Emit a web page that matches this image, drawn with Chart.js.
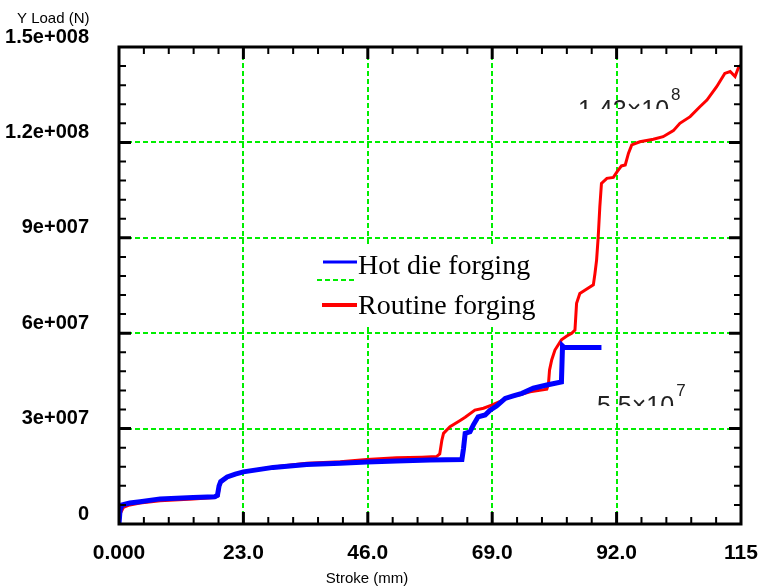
<!DOCTYPE html>
<html>
<head>
<meta charset="utf-8">
<script src="https://cdn.jsdelivr.net/npm/chart.js@4.4.1/dist/chart.umd.min.js"></script>
<style>
  html, body { margin: 0; padding: 0; background: #fff; }
  #wrap { position: relative; width: 762px; height: 588px; }
</style>
</head>
<body>
<div id="wrap"><canvas id="load-chart"></canvas></div>
<script>
// stroke (mm) / load (N)
const hotX = [0, 0.2, 0.6, 2.0, 3.9, 7.6, 13.7, 17.7, 18.2, 18.5, 18.8, 20.0, 21.5, 23.0, 28.5, 34.7,
  40.9, 45.8, 51.3, 57.5, 63.4, 63.7, 64.0, 64.9, 65.5, 66.4, 67.7, 68.6, 69.8, 71.4, 72.9, 74.5,
  76.6, 79.1, 81.8, 82.0, 82.3, 89.2];
const hotY = [0, 4.5e6, 6.0e6, 6.6e6, 7.0e6, 7.9e6, 8.3e6, 8.6e6, 9.0e6, 1.2e7, 1.33e7, 1.48e7, 1.57e7,
  1.64e7, 1.78e7, 1.87e7, 1.91e7, 1.95e7, 1.98e7, 2.01e7, 2.03e7, 2.38e7, 2.85e7, 2.9e7, 3.11e7,
  3.37e7, 3.43e7, 3.58e7, 3.71e7, 3.95e7, 4.03e7, 4.11e7, 4.27e7, 4.37e7, 4.47e7, 5.6e7, 5.55e7, 5.55e7];

const routineX = [0, 0.3, 0.8, 2.0, 3.9, 7.6, 13.7, 17.7, 18.3, 18.6, 18.9, 20.0, 21.5, 23.0, 28.5,
  34.7, 40.9, 45.8, 51.3, 56.0, 58.7, 59.3, 59.7, 60.0, 61.2, 63.0, 64.0, 65.8, 67.4, 68.9, 70.8,
  72.3, 74.1, 76.0, 79.1, 79.4, 79.6, 80.0, 80.6, 81.8, 82.8, 83.7, 84.3, 84.6, 85.2, 86.2, 87.7,
  88.0, 88.3, 88.6, 88.9, 89.2, 90.2, 91.4, 92.1, 92.9, 93.6, 94.2, 94.8, 96.3, 98.8, 100.6, 102.5,
  103.7, 105.6, 107.4, 108.7, 110.5, 112.0, 113.0, 113.9, 114.5, 115.0];
const routineY = [0, 3.5e6, 5.2e6, 6.0e6, 6.6e6, 7.3e6, 7.9e6, 8.3e6, 8.8e6, 1.2e7, 1.32e7, 1.47e7,
  1.57e7, 1.64e7, 1.79e7, 1.91e7, 1.96e7, 2.03e7, 2.08e7, 2.1e7, 2.12e7, 2.2e7, 2.64e7, 2.85e7,
  3.06e7, 3.25e7, 3.36e7, 3.58e7, 3.64e7, 3.74e7, 3.88e7, 4.0e7, 4.06e7, 4.16e7, 4.24e7, 4.4e7,
  4.84e7, 5.16e7, 5.47e7, 5.79e7, 5.91e7, 6.0e7, 6.1e7, 6.94e7, 7.25e7, 7.36e7, 7.52e7, 7.88e7,
  8.3e7, 9.03e7, 9.98e7, 1.071e8, 1.087e8, 1.09e8, 1.108e8, 1.126e8, 1.129e8, 1.166e8, 1.192e8,
  1.202e8, 1.21e8, 1.218e8, 1.237e8, 1.26e8, 1.281e8, 1.312e8, 1.333e8, 1.375e8, 1.417e8, 1.423e8,
  1.407e8, 1.434e8, 1.443e8];

const seriesNames = ['Hot die forging', 'Routine forging'];
const xTickLabels = ['0.000', '23.0', '46.0', '69.0', '92.0', '115'];
const yTickLabels = ['0', '3e+007', '6e+007', '9e+007', '1.2e+008', '1.5e+008'];
const xTitle = 'Stroke (mm)';
const yTitle = 'Y Load (N)';
const peakNotes = [
  { x: 578, y: 118, clipY: 109, base: '1.43\u00d710', exp: '8' },
  { x: 597, y: 414, clipY: 406, base: '5.5\u00d710', exp: '7' },
];

const GREEN = '#00ee00';
const MINOR_PER_MAJOR = 5;

function toPoints(xs, ys) {
  return xs.map((x, i) => ({ x, y: ys[i] }));
}

function gridColor(ctx) {
  const i = ctx.index;
  const last = ctx.scale.ticks.length - 1;
  return i % MINOR_PER_MAJOR === 0 && i !== 0 && i !== last ? GREEN : 'rgba(0,0,0,0)';
}

const frameAndTicks = {
  id: 'frameAndTicks',
  afterDatasetsDraw(chart) {
    const { ctx, chartArea: a, scales } = chart;
    ctx.save();
    ctx.strokeStyle = '#000';
    ctx.lineCap = 'butt';

    scales.x.ticks.forEach((t, i) => {
      if (i === 0 || i === scales.x.ticks.length - 1) return;
      const px = scales.x.getPixelForTick(i);
      const major = i % MINOR_PER_MAJOR === 0;
      const len = major ? 12 : 7;
      ctx.lineWidth = major ? 3 : 2;
      ctx.beginPath();
      ctx.moveTo(px, a.bottom);
      ctx.lineTo(px, a.bottom - len);
      ctx.moveTo(px, a.top);
      ctx.lineTo(px, a.top + len);
      ctx.stroke();
    });

    scales.y.ticks.forEach((t, i) => {
      if (i === 0 || i === scales.y.ticks.length - 1) return;
      const py = scales.y.getPixelForTick(i);
      const major = i % MINOR_PER_MAJOR === 0;
      const len = major ? 12 : 7;
      ctx.lineWidth = major ? 3 : 2;
      ctx.beginPath();
      ctx.moveTo(a.left, py);
      ctx.lineTo(a.left + len, py);
      ctx.moveTo(a.right, py);
      ctx.lineTo(a.right - len, py);
      ctx.stroke();
    });

    ctx.lineWidth = 3;
    ctx.strokeRect(a.left, a.top, a.right - a.left, a.bottom - a.top);
    ctx.restore();
  },
};

const legendBox = {
  id: 'legendBox',
  afterDatasetsDraw(chart) {
    const ctx = chart.ctx;
    ctx.save();
    ctx.fillStyle = '#fff';
    ctx.fillRect(310, 244, 236, 82);

    ctx.lineWidth = 3;
    ctx.strokeStyle = '#0000ff';
    ctx.beginPath();
    ctx.moveTo(323, 262);
    ctx.lineTo(357, 262);
    ctx.stroke();

    ctx.lineWidth = 2;
    ctx.strokeStyle = GREEN;
    ctx.setLineDash([5, 3]);
    ctx.beginPath();
    ctx.moveTo(317, 280);
    ctx.lineTo(357, 280);
    ctx.stroke();
    ctx.setLineDash([]);

    ctx.lineWidth = 4;
    ctx.strokeStyle = '#ff0000';
    ctx.beginPath();
    ctx.moveTo(322, 305);
    ctx.lineTo(357, 305);
    ctx.stroke();

    ctx.fillStyle = '#000';
    ctx.font = '28px "Liberation Serif", serif';
    ctx.textBaseline = 'alphabetic';
    ctx.fillText(seriesNames[0], 358, 274);
    ctx.fillText(seriesNames[1], 358, 314);
    ctx.restore();
  },
};

const notesAndTitles = {
  id: 'notesAndTitles',
  afterDraw(chart) {
    const ctx = chart.ctx;
    ctx.save();
    ctx.fillStyle = '#000';
    ctx.font = '15px "Liberation Sans", Arial, sans-serif';
    ctx.textBaseline = 'alphabetic';
    ctx.textAlign = 'left';
    ctx.fillText(yTitle, 17, 23);
    ctx.textAlign = 'center';
    ctx.fillText(xTitle, 367, 583);

    ctx.textAlign = 'left';
    peakNotes.forEach((n) => {
      ctx.save();
      ctx.beginPath();
      ctx.rect(0, 0, chart.width, n.clipY);
      ctx.clip();
      ctx.fillStyle = '#222';
      ctx.font = '25px "Liberation Sans", Arial, sans-serif';
      ctx.fillText(n.base, n.x, n.y);
      const w = ctx.measureText(n.base).width;
      ctx.font = '17px "Liberation Sans", Arial, sans-serif';
      ctx.fillText(n.exp, n.x + w + 2, n.y - 18);
      ctx.restore();
    });
    ctx.restore();
  },
};

const canvas = document.getElementById('load-chart').getContext('2d');

new Chart(canvas, {
  type: 'line',
  data: {
    datasets: [
      {
        label: seriesNames[0],
        data: toPoints(hotX, hotY),
        borderColor: '#0000ff',
        borderWidth: 5,
        pointRadius: 0,
        tension: 0,
        fill: false,
      },
      {
        label: seriesNames[1],
        data: toPoints(routineX, routineY),
        borderColor: '#ff0000',
        borderWidth: 3,
        pointRadius: 0,
        tension: 0,
        fill: false,
      },
    ],
  },
  options: {
    responsive: true,
    maintainAspectRatio: false,
    animation: false,
    layout: {
      padding: { left: 0, right: 21, top: 47, bottom: 0 },
    },
    scales: {
      x: {
        type: 'linear',
        min: 0,
        max: 115,
        afterFit: (s) => {
          s.height = 64;
          s.paddingLeft = 0;
          s.paddingRight = 0;
        },
        ticks: {
          stepSize: 4.6,
          autoSkip: false,
          maxRotation: 0,
          padding: 17,
          color: '#000',
          font: { family: '"Liberation Sans", Arial, sans-serif', size: 21, weight: 'bold' },
          callback: (value, index) => (index % MINOR_PER_MAJOR === 0 ? xTickLabels[index / MINOR_PER_MAJOR] : ''),
        },
        grid: {
          color: gridColor,
          lineWidth: 2,
          drawTicks: false,
        },
        border: { display: false, dash: [5, 3] },
      },
      y: {
        type: 'linear',
        min: 0,
        max: 1.5e8,
        afterFit: (s) => {
          s.width = 119;
          s.paddingTop = 0;
          s.paddingBottom = 0;
        },
        ticks: {
          stepSize: 6e6,
          autoSkip: false,
          padding: 30,
          labelOffset: -10,
          color: '#000',
          font: { family: '"Liberation Sans", Arial, sans-serif', size: 20, weight: 'bold' },
          callback: (value, index) => (index % MINOR_PER_MAJOR === 0 ? yTickLabels[index / MINOR_PER_MAJOR] : ''),
        },
        grid: {
          color: gridColor,
          lineWidth: 2,
          drawTicks: false,
        },
        border: { display: false, dash: [5, 3] },
      },
    },
    plugins: {
      legend: { display: false },
      tooltip: { enabled: false },
    },
  },
  plugins: [frameAndTicks, legendBox, notesAndTitles],
});
</script>
</body>
</html>
